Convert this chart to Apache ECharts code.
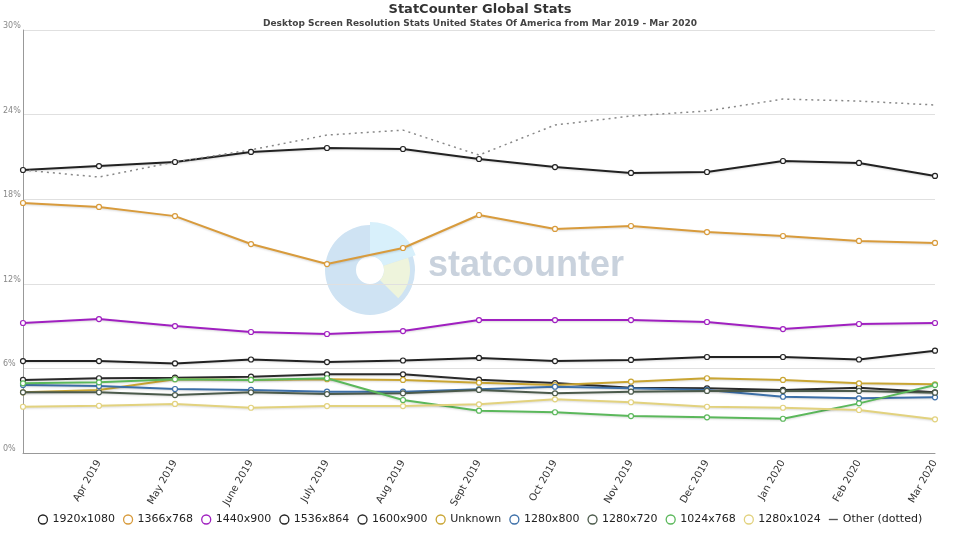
<!DOCTYPE html>
<html>
<head>
<meta charset="utf-8">
<script src="https://cdn.jsdelivr.net/npm/echarts@6/dist/echarts.min.js"></script>
<style>html,body{margin:0;padding:0;background:#fff}#c{width:960px;height:540px}</style>
</head>
<body>
<div id="c"></div>
<script>
// months
const categories = ["Mar 2019", "Apr 2019", "May 2019", "June 2019", "July 2019", "Aug 2019", "Sept 2019", "Oct 2019", "Nov 2019", "Dec 2019", "Jan 2020", "Feb 2020", "Mar 2020"];

const r1920x1080 = [20.07, 20.35, 20.64, 21.35, 21.63, 21.56, 20.85, 20.28, 19.86, 19.93, 20.71, 20.57, 19.65];
const r1366x768 = [17.73, 17.45, 16.8, 14.82, 13.4, 14.54, 16.88, 15.89, 16.1, 15.67, 15.39, 15.04, 14.9];
const r1440x900 = [9.22, 9.5, 9.0, 8.58, 8.44, 8.65, 9.43, 9.43, 9.43, 9.29, 8.79, 9.15, 9.22];
const r1536x864 = [6.52, 6.52, 6.35, 6.63, 6.45, 6.56, 6.74, 6.52, 6.6, 6.81, 6.81, 6.63, 7.26];
const r1600x900 = [5.18, 5.3, 5.34, 5.41, 5.58, 5.58, 5.2, 4.96, 4.63, 4.59, 4.47, 4.63, 4.3];
const unknown = [4.3, 4.47, 5.23, 5.18, 5.23, 5.18, 4.99, 4.82, 5.06, 5.3, 5.18, 4.94, 4.87];
const r1280x800 = [4.82, 4.75, 4.54, 4.47, 4.35, 4.35, 4.52, 4.7, 4.59, 4.47, 3.99, 3.88, 3.95];
const r1280x720 = [4.3, 4.3, 4.11, 4.3, 4.18, 4.23, 4.47, 4.23, 4.35, 4.4, 4.4, 4.4, 4.28];
const r1024x768 = [4.94, 5.01, 5.23, 5.18, 5.3, 3.76, 3.0, 2.89, 2.62, 2.53, 2.43, 3.52, 4.82];
const r1280x1024 = [3.28, 3.35, 3.48, 3.21, 3.33, 3.33, 3.45, 3.81, 3.6, 3.28, 3.21, 3.05, 2.39];
const other = [20.07, 19.57, 20.64, 21.5, 22.55, 22.9, 21.13, 23.26, 23.9, 24.26, 25.1, 24.96, 24.68];

const yTicks = [0, 6, 12, 18, 24, 30];

const chart = echarts.init(document.getElementById('c'));

function line(name, data, color) {
	return {
		name: name, type: 'line', data: data, lineColor: color,
		symbol: 'circle', symbolSize: 5, showSymbol: true,
		itemStyle: { color: '#fff', borderColor: color, borderWidth: 1.2 },
		lineStyle: { color: color, width: 2, shadowColor: 'rgba(0,0,0,0.15)', shadowBlur: 2, shadowOffsetY: 1 },
		emphasis: { disabled: true }
	};
}

const series = [
	line('1920x1080', r1920x1080, '#222222'),
	line('1366x768', r1366x768, '#d89b3c'),
	line('1440x900', r1440x900, '#a020c0'),
	line('1536x864', r1536x864, '#222222'),
	line('1600x900', r1600x900, '#2a2a2a'),
	line('Unknown', unknown, '#c9a533'),
	line('1280x800', r1280x800, '#3c6fa8'),
	line('1280x720', r1280x720, '#4b5a4b'),
	line('1024x768', r1024x768, '#5bb85b'),
	line('1280x1024', r1280x1024, '#e2d27e'),
	{
		name: 'Other (dotted)', type: 'line', data: other, symbol: 'none',
		itemStyle: { color: '#777' },
		lineStyle: { color: '#888', width: 1.5, type: [2, 4] }
	}
];

chart.setOption({
	animation: false,
	textStyle: { fontFamily: 'DejaVu Sans' },
	title: {
		text: 'StatCounter Global Stats',
		subtext: 'Desktop Screen Resolution Stats United States Of America from Mar 2019 - Mar 2020',
		left: 'center', top: -2, itemGap: 3,
		textStyle: { fontSize: 13, fontWeight: 'bold', color: '#333' },
		subtextStyle: { fontSize: 9, fontWeight: 'bold', color: '#444' }
	},
	graphic: [
		{ type: 'ring', shape: { cx: 370, cy: 270, r: 45, r0: 14 }, style: { fill: '#cfe3f3' }, silent: true },
		{ type: 'sector', shape: { cx: 370, cy: 270, r: 48, r0: 14, startAngle: -Math.PI / 2, endAngle: -Math.PI / 10 }, style: { fill: '#d8f0fb' }, silent: true },
		{ type: 'sector', shape: { cx: 370, cy: 270, r: 40, r0: 14, startAngle: -Math.PI / 10, endAngle: Math.PI / 4 }, style: { fill: '#eef4dc' }, silent: true },
		{ type: 'text', left: 428, top: 248, style: { text: 'statcounter', fontSize: 36, fontWeight: 'bold', fill: '#c9d2dd' }, silent: true }
	],
	legend: {
		bottom: 10, left: 'center', itemWidth: 9, itemHeight: 9, itemGap: 8,
		textStyle: { fontSize: 11, color: '#222' },
		data: series.map(s => s.name === 'Other (dotted)'
			? { name: s.name, icon: 'path://M0,4L10,4L10,5.5L0,5.5Z', itemStyle: { color: '#555' } }
			: { name: s.name, icon: 'circle', itemStyle: { color: '#fff', borderColor: s.lineColor, borderWidth: 1.3 } })
	},
	grid: { left: 22, right: 25, top: 30, bottom: 87 },
	xAxis: {
		type: 'category', data: categories, boundaryGap: false,
		axisLine: { lineStyle: { color: '#999' } },
		axisTick: { show: false },
		splitLine: { show: false },
		axisLabel: {
			rotate: 60, fontSize: 10, color: '#333', margin: 8,
			formatter: (v, i) => i === 0 ? '' : v
		}
	},
	yAxis: {
		type: 'value', min: 0, max: 30, interval: 6,
		axisLine: { show: true, lineStyle: { color: '#999' } },
		splitLine: { lineStyle: { color: '#e0e0e0' } },
		axisLabel: {
			inside: true, fontSize: 8, color: '#888', margin: -20, verticalAlign: 'bottom',
			formatter: v => yTicks.includes(v) ? v + '%' : ''
		}
	},
	series: series
});
</script>
</body>
</html>
